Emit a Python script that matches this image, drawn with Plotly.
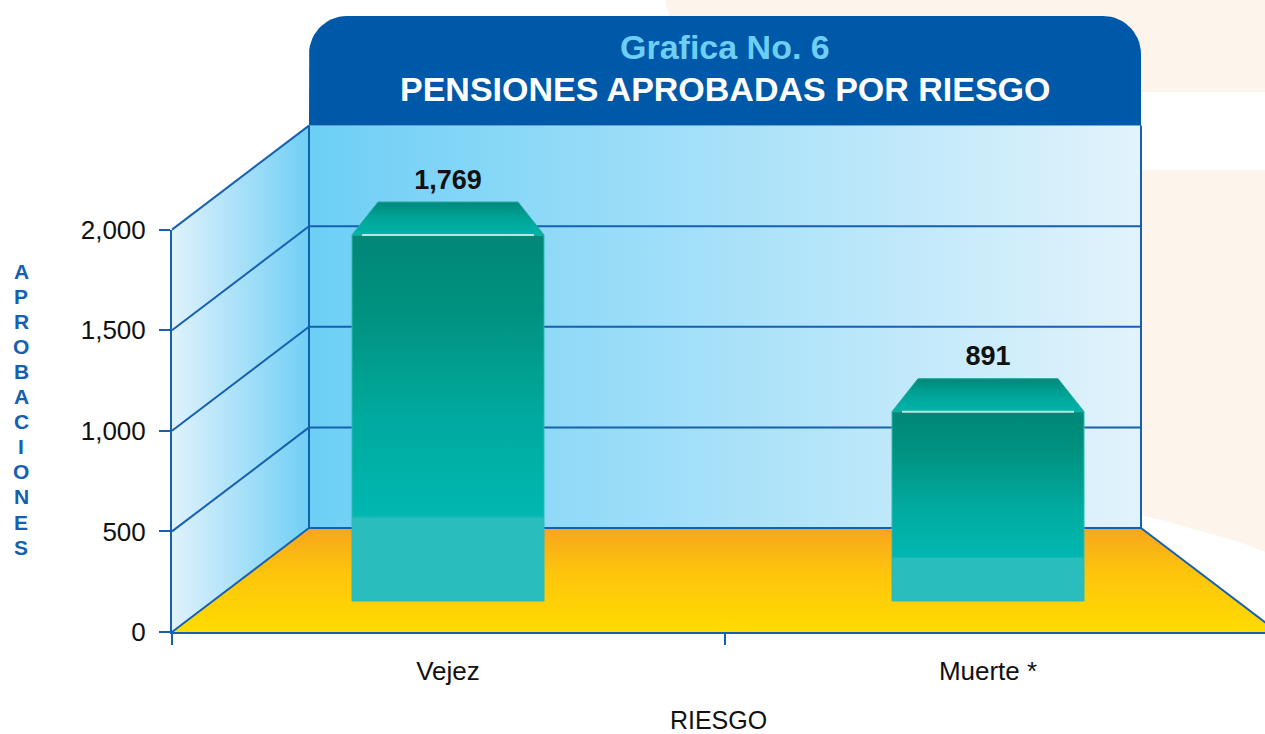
import numpy as np
import plotly.graph_objects as go

# ---------------- data ----------------
categories = ["Vejez", "Muerte *"]
values = [1769, 891]
y_ticks = [0, 500, 1000, 1500, 2000]
y_tick_labels = ["0", "500", "1,000", "1,500", "2,000"]
title_line1 = "Grafica No. 6"
title_line2 = "PENSIONES APROBADAS POR RIESGO"
x_title = "RIESGO"
y_title = "APROBACIONES"

# ---------------- layout geometry / styles ----------------
W, H = 1265, 734
FONT = "Liberation Sans, Arial, Helvetica, sans-serif"
BLUE = "#1560b0"
Y0_PX, YMAX_PX = 632.0, 229.6          # pixel rows of axis 0 and axis max
S = (Y0_PX - YMAX_PX) / max(y_ticks)   # pixels per value unit
AX_X0 = 172.0                          # front-left corner (pixels)
DX = 137.0                             # depth offset, x (pixels)
DV = 104.0 / S                         # depth offset, value units
BACK_X0, BACK_X1 = AX_X0 + DX, 1141.0
FLOOR_X1 = BACK_X1 + DX
CAT_POS = [448.0, 988.0]               # category centres (pixels)
BAR_HALF = 96.0
BAR_BASE = 31.0 / S                    # bar base depth on the floor
BAR_LIFT = 50.0
LID_H = 33.0 / S
LID_INSET = 26.0
BANNER_TOP_PX = 16.0
BANNER_R = 38.0


def v(py):
    """pixel row -> value units of the drawing axes"""
    return (Y0_PX - py) / S


fig = go.Figure()


def poly(xs, ys, color=None, grad=None, line=None):
    kw = dict(x=list(xs) + [xs[0]], y=list(ys) + [ys[0]], mode="lines",
              fill="toself", hoverinfo="skip", showlegend=False,
              line=line or dict(width=0, color="rgba(0,0,0,0)"))
    if grad is not None:
        kw["fillgradient"] = grad
        kw["fillcolor"] = None
    else:
        kw["fillcolor"] = color
    fig.add_trace(go.Scatter(**kw))


# decorative peach background
PEACH = "#fdf4eb"
poly([665, W, W, 690], [v(0), v(0), v(92), v(92)], color=PEACH)
cx = np.linspace(W, BACK_X1 - 60, 12)
cy = 552 - 37 * ((W - cx) / (W - BACK_X1)) ** 0.85
poly([BACK_X1 - 60, W] + list(cx), [v(170), v(170)] + [v(p) for p in cy], color=PEACH)

# back wall
ymax = max(y_ticks)
poly([BACK_X0, BACK_X1, BACK_X1, BACK_X0], [DV, DV, DV + ymax, DV + ymax],
     grad=dict(type="horizontal", colorscale=[[0, "#6dcff6"], [1, "#e2f3fc"]]))
# left wall
poly([AX_X0, BACK_X0, BACK_X0, AX_X0], [0, DV, DV + ymax, ymax],
     grad=dict(type="horizontal", colorscale=[[0, "#e0f2fc"], [1, "#70cff5"]]))
# floor
poly([AX_X0, BACK_X0, BACK_X1, FLOOR_X1], [0, DV, DV, 0],
     grad=dict(type="vertical", colorscale=[[0, "#ffdc00"], [0.55, "#fdc50c"], [1, "#f8a61c"]]))

# grid / edges
gx, gy = [], []
for t in y_ticks:
    gx += [AX_X0, BACK_X0, None]
    gy += [t, t + DV, None]
    if t < ymax:
        gx += [BACK_X0, BACK_X1, None]
        gy += [t + DV, t + DV, None]
gx += [BACK_X0, BACK_X0, None, BACK_X1, BACK_X1, None, BACK_X1, FLOOR_X1]
gy += [DV, DV + ymax, None, DV, DV + ymax, None, DV, 0]
fig.add_trace(go.Scatter(x=gx, y=gy, mode="lines", line=dict(color=BLUE, width=2),
                         hoverinfo="skip", showlegend=False))

# title banner with rounded top corners
a1 = np.linspace(np.pi, np.pi / 2, 16)
a2 = np.linspace(np.pi / 2, 0, 16)
bx = [BACK_X0] + list(BACK_X0 + BANNER_R + BANNER_R * np.cos(a1)) + \
     list(BACK_X1 - BANNER_R + BANNER_R * np.cos(a2)) + [BACK_X1]
by = [DV + ymax] + [v(BANNER_TOP_PX + BANNER_R - BANNER_R * np.sin(a)) for a in a1] + \
     [v(BANNER_TOP_PX + BANNER_R - BANNER_R * np.sin(a)) for a in a2] + [DV + ymax]
poly(bx, by, color="#0058a8")

# bars
front_scale = [[0, "#29bdbd"], [0.225, "#29bdbd"], [0.235, "#00b7b1"],
               [0.5, "#00aa9e"], [0.8, "#00917f"], [1, "#008777"]]
lid_scale = [[0, "#00b3aa"], [0.5, "#00a597"], [1, "#00887a"]]
label_y = []
for cpos, val in zip(CAT_POS, values):
    top = BAR_BASE + val + BAR_LIFT
    poly([cpos - BAR_HALF, cpos + BAR_HALF, cpos + BAR_HALF, cpos - BAR_HALF],
         [BAR_BASE, BAR_BASE, top, top],
         grad=dict(type="vertical", colorscale=front_scale),
         line=dict(color="#30b9b0", width=1))
    poly([cpos - BAR_HALF, cpos + BAR_HALF, cpos + BAR_HALF - LID_INSET, cpos - BAR_HALF + LID_INSET],
         [top, top, top + LID_H, top + LID_H],
         grad=dict(type="vertical", colorscale=lid_scale),
         line=dict(color="#1fa99c", width=1))
    fig.add_trace(go.Scatter(x=[cpos - BAR_HALF + 10, cpos + BAR_HALF - 10], y=[top, top],
                             mode="lines", line=dict(color="#b5e3de", width=2),
                             hoverinfo="skip", showlegend=False))
    label_y.append(top + LID_H + 20.0 / S)

fig.add_trace(go.Scatter(x=CAT_POS, y=label_y, mode="text",
                         text=[f"{val:,}" for val in values], textposition="middle center",
                         textfont=dict(size=27, color="#111111", family=FONT, weight="bold"),
                         hoverinfo="skip", showlegend=False))

# visible axes (x2/y2)
fig.add_trace(go.Scatter(x=CAT_POS, y=[0, 0], xaxis="x2", yaxis="y2", mode="markers",
                         marker=dict(opacity=0), hoverinfo="skip", showlegend=False))

annotations = [
    dict(text=f"<b>{title_line1}</b>", x=(BACK_X0 + BACK_X1) / 2 / W, y=1 - 47 / H,
         xref="paper", yref="paper", showarrow=False, xanchor="center", yanchor="middle",
         font=dict(size=34, color="#6dcff6", family=FONT)),
    dict(text=f"<b>{title_line2}</b>", x=(BACK_X0 + BACK_X1) / 2 / W, y=1 - 89 / H,
         xref="paper", yref="paper", showarrow=False, xanchor="center", yanchor="middle",
         font=dict(size=34, color="#ffffff", family=FONT)),
]
for i, ch in enumerate(y_title):
    annotations.append(dict(text=f"<b>{ch}</b>", x=21 / W, y=1 - (271 + 25.1 * i) / H,
                            xref="paper", yref="paper", showarrow=False,
                            xanchor="center", yanchor="middle",
                            font=dict(size=21, color="#1560b0", family=FONT)))

fig.update_layout(
    template="none",
    width=W, height=H, autosize=False,
    margin=dict(l=0, r=0, t=0, b=0, pad=0),
    paper_bgcolor="white", plot_bgcolor="rgba(0,0,0,0)",
    font=dict(family=FONT, color="#111111"),
    showlegend=False,
    xaxis=dict(domain=[0, 1], range=[0, W], visible=False, fixedrange=True),
    yaxis=dict(domain=[0, 1], range=[v(H), v(0)], visible=False, fixedrange=True),
    xaxis2=dict(domain=[AX_X0 / W, 1], range=[AX_X0, W], anchor="y2",
                tickmode="array", tickvals=CAT_POS, ticktext=categories, ticks="",
                ticklabelstandoff=15,
                minor=dict(tickmode="array", tickvals=[AX_X0, (AX_X0 + FLOOR_X1) / 2],
                           ticks="outside", ticklen=11, tickcolor=BLUE, tickwidth=2,
                           showgrid=False),
                showline=True, linecolor=BLUE, linewidth=2, showgrid=False, zeroline=False,
                tickfont=dict(size=26, color="#111111", family=FONT),
                title=dict(text=x_title, standoff=34, font=dict(size=25, color="#111111", family=FONT)),
                automargin=False, fixedrange=True),
    yaxis2=dict(domain=[(H - Y0_PX) / H, (H - YMAX_PX) / H], range=[0, ymax], anchor="x2",
                tickmode="array", tickvals=y_ticks, ticktext=y_tick_labels,
                ticks="outside", ticklen=11, tickcolor=BLUE, tickwidth=2,
                ticklabelstandoff=8,
                showline=True, linecolor=BLUE, linewidth=2, showgrid=False, zeroline=False,
                tickfont=dict(size=26, color="#111111", family=FONT),
                automargin=False, fixedrange=True),
    annotations=annotations,
)

fig.write_html("out.html", config={"displayModeBar": False},
               post_script="document.body.style.margin='0';document.body.style.overflow='hidden';")
